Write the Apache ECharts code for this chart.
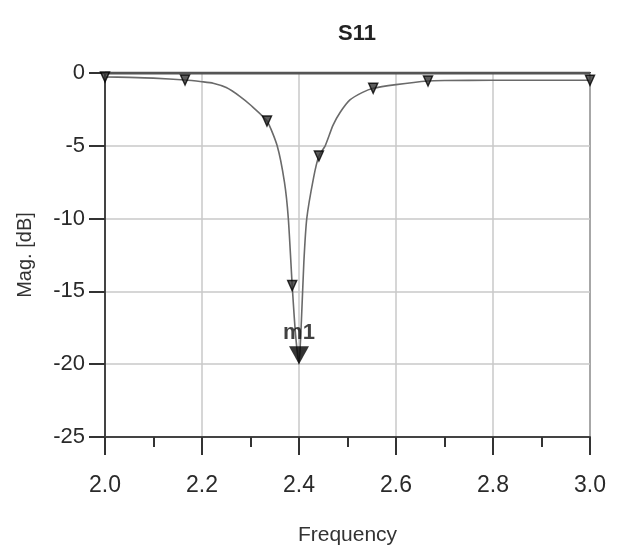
<!DOCTYPE html>
<html>
<head>
<meta charset="utf-8">
<script src="https://cdn.jsdelivr.net/npm/echarts@6/dist/echarts.min.js"></script>
<style>
  html, body { margin: 0; padding: 0; background: #fff; }
  #chart { width: 619px; height: 551px; }
</style>
</head>
<body>
<div id="chart"></div>
<script>
// S11 trace (GHz, dB)
const freq = [2.0, 2.05, 2.1, 2.165, 2.2, 2.223, 2.25, 2.278, 2.3, 2.334, 2.355, 2.37, 2.378, 2.386, 2.393, 2.4,
              2.405, 2.41, 2.416, 2.43, 2.441, 2.454, 2.47, 2.485, 2.505, 2.53, 2.553, 2.6, 2.666, 2.7, 2.8, 2.9, 3.0]
const mag = [-0.27, -0.3, -0.35, -0.48, -0.6, -0.7, -1.0, -1.6, -2.2, -3.3, -5.0, -7.5, -10.0, -14.6, -18.0, -20.0,
             -17.0, -13.0, -10.0, -7.2, -5.7, -5.0, -3.6, -2.7, -1.85, -1.35, -1.05, -0.8, -0.55, -0.52, -0.5, -0.5, -0.5]
// little trace-id triangles along the curve
const traceMarkFreq = [2.0, 2.165, 2.334, 2.386, 2.441, 2.553, 2.666, 3.0]
// marker m1
const m1 = [2.4, -20.0]
const xTicks = [2.0, 2.2, 2.4, 2.6, 2.8, 3.0]
const yTicks = [0, -5, -10, -15, -20, -25]

const lineData = freq.map((f, i) => [f, mag[i]])
const markData = traceMarkFreq.map(f => [f, mag[freq.indexOf(f)]])

const font = "'Liberation Sans Narrow', 'Liberation Sans', Arial, sans-serif"

let chart = echarts.init(document.getElementById('chart'))
chart.setOption({
    backgroundColor: '#fff',
    animation: false,
    title: {
        text: 'S11',
        left: 352,
        textAlign: 'center',
        top: 18,
        textStyle: { fontFamily: 'Liberation Sans, Arial, sans-serif', fontSize: 22, fontWeight: 'bold', color: '#222' }
    },
    grid: {
        left: 105, right: 29, top: 73, bottom: 111,
        show: true,
        borderColor: '#444',
        borderWidth: 2
    },
    xAxis: {
        type: 'value',
        min: xTicks[0],
        max: xTicks[xTicks.length - 1],
        interval: 0.2,
        name: 'Frequency',
        nameLocation: 'middle',
        nameGap: 88,
        nameTextStyle: { fontFamily: font, fontSize: 21, color: '#333' },
        axisLine: { onZero: false, lineStyle: { color: '#444', width: 2 } },
        axisTick: { length: 18, lineStyle: { color: '#333', width: 2 } },
        minorTick: { show: true, splitNumber: 2, length: 10, lineStyle: { color: '#333', width: 2 } },
        axisLabel: {
            margin: 37,
            fontFamily: font,
            fontSize: 23,
            color: '#2a2a2a',
            formatter: v => v.toFixed(1)
        },
        splitLine: { show: true, lineStyle: { color: '#c8c8c8', width: 1.5 } }
    },
    yAxis: {
        type: 'value',
        min: yTicks[yTicks.length - 1],
        max: yTicks[0],
        interval: 5,
        name: 'Mag. [dB]',
        nameLocation: 'middle',
        nameGap: 70,
        nameTextStyle: { fontFamily: font, fontSize: 20, color: '#333' },
        axisLine: { show: true, onZero: false, lineStyle: { color: '#444', width: 2 } },
        axisTick: { show: true, length: 16, lineStyle: { color: '#333', width: 2 } },
        axisLabel: { margin: 20, fontFamily: font, fontSize: 22, color: '#2a2a2a' },
        splitLine: { show: true, lineStyle: { color: '#c8c8c8', width: 1.5 } }
    },
    series: [
        {
            // thick 0 dB line on top
            type: 'line',
            data: [[2.0, 0], [3.0, 0]],
            symbol: 'none',
            lineStyle: { color: '#555', width: 3 },
            silent: true,
            z: 1
        },
        {
            name: 'S11',
            type: 'line',
            data: lineData,
            symbol: 'none',
            smooth: 0.2,
            lineStyle: { color: '#6a6a6a', width: 1.6 },
            z: 2
        },
        {
            type: 'scatter',
            data: markData,
            symbol: 'triangle',
            symbolRotate: 180,
            symbolSize: [9, 10],
            itemStyle: { color: '#333', borderColor: '#000', borderWidth: 1.5 },
            z: 3
        },
        {
            type: 'scatter',
            data: [m1],
            symbol: 'triangle',
            symbolRotate: 180,
            symbolSize: [20, 18],
            symbolOffset: [0, '-50%'],
            itemStyle: { color: '#000' },
            label: {
                show: true,
                formatter: 'm1',
                position: 'top',
                distance: 2,
                fontFamily: font,
                fontSize: 22,
                fontWeight: 'bold',
                color: '#111'
            },
            z: 4
        }
    ]
})
</script>
</body>
</html>
